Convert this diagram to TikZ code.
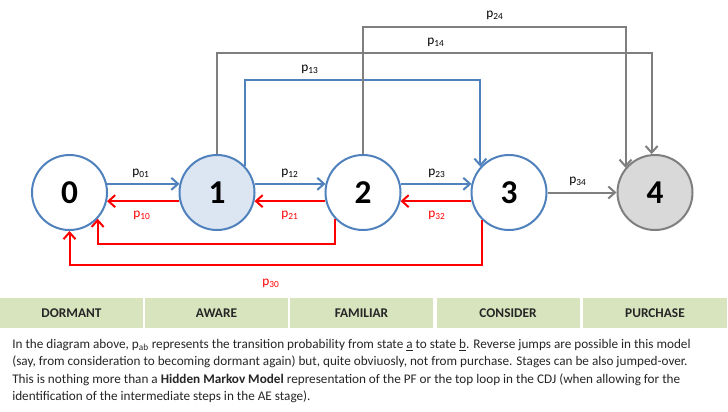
\documentclass[tikz,border=0pt]{standalone}
\usepackage{fontspec}
\setmainfont{Carlito}
\usetikzlibrary{arrows.meta}
\definecolor{cblue}{HTML}{4F81BD}
\definecolor{cred}{HTML}{FF0000}
\definecolor{cgray}{HTML}{7F7F7F}
\definecolor{nblue}{HTML}{DCE6F2}
\definecolor{ngray}{HTML}{D9D9D9}
\definecolor{bargreen}{HTML}{D7E4BD}
\definecolor{txt}{HTML}{262626}
\tikzset{
  state/.style={circle, draw=cblue, line width=1.5pt, fill=white, minimum size=56.25pt, inner sep=0pt, font=\fontsize{25}{25}\selectfont\bfseries},
  fwd/.style={draw=cblue, line width=1.5pt, -{Straight Barb[length=5pt,width=9pt,line width=1.5pt]}},
  bwd/.style={draw=cred, line width=1.5pt, -{Straight Barb[length=5pt,width=9pt,line width=1.5pt]}},
  gry/.style={draw=cgray, line width=1.5pt, -{Straight Barb[length=5pt,width=9pt,line width=1.5pt]}},
  plab/.style={font=\fontsize{10}{10}\selectfont, text=black, inner sep=1pt},
  rlab/.style={font=\fontsize{10}{10}\selectfont, text=cred, inner sep=1pt},
  stage/.style={fill=bargreen, draw=none, minimum height=22.5pt, inner sep=0pt, font=\fontsize{10}{10}\selectfont\bfseries, text=txt},
}
\begin{document}
\begin{tikzpicture}[x=0.75pt,y=-0.75pt]
\useasboundingbox (0,0) rectangle (728,411);
\fill[white] (0,0) rectangle (728,411);
% states
\node[state] (n0) at (69.5,192.5) {0};
\node[state, fill=nblue] (n1) at (217,192.5) {1};
\node[state] (n2) at (363,192.5) {2};
\node[state] (n3) at (509,192.5) {3};
\node[state, draw=cgray, fill=ngray] (n4) at (655,192.5) {4};
% forward / backward
\draw[fwd] (n0.13) -- (n1.167);
\draw[bwd] (n1.193) -- (n0.347);
\draw[fwd] (n1.13) -- (n2.167);
\draw[bwd] (n2.193) -- (n1.347);
\draw[fwd] (n2.13) -- (n3.167);
\draw[bwd] (n3.193) -- (n2.347);
\draw[gry] (n3.east) -- (n4.west);
% long backward loops
\coordinate (l20) at (0,244);
\coordinate (l30) at (0,265);
\draw[bwd] (n2.224) -- (n2.224 |- l20) -| (n0.317);
\draw[bwd] (n3.226) -- (n3.226 |- l30) -| (n0.270);
% top jumps
\coordinate (t13) at (0,80);
\coordinate (t14) at (0,53);
\coordinate (t24) at (0,27);
\draw[fwd] (n1.44) -- (n1.44 |- t13) -| (n3.138);
\draw[gry] (n1.90) -- (n1.90 |- t14) -| (n4.95);
\draw[gry] (n2.90) -- (n2.90 |- t24) -| (n4.140);
% labels
\node[plab] (l01) at (141,173) {p\textsubscript{01}};
\node[rlab] (l10) at (142,215) {p\textsubscript{10}};
\node[plab] (l12) at (290,173) {p\textsubscript{12}};
\node[rlab] (l21) at (290,215) {p\textsubscript{21}};
\node[plab] (l23) at (437,173) {p\textsubscript{23}};
\node[rlab] (l32) at (437,215) {p\textsubscript{32}};
\node[plab] (l34) at (578,181) {p\textsubscript{34}};
\node[plab] (l13) at (310,69) {p\textsubscript{13}};
\node[plab] (l14) at (436,42) {p\textsubscript{14}};
\node[plab] (l24) at (495,15) {p\textsubscript{24}};
\node[rlab] (l30t) at (271,283) {p\textsubscript{30}};
% stage bar
\node[stage, minimum width=107.25pt] (s0) at (71.5,313) {DORMANT};
\node[stage, minimum width=107.25pt] (s1) at (216.5,313) {AWARE};
\node[stage, minimum width=107.25pt] (s2) at (361.5,313) {FAMILIAR};
\node[stage, minimum width=107.25pt] (s3) at (508,313) {CONSIDER};
\node[stage, minimum width=108pt] (s4) at (655,313) {PURCHASE};
% paragraph
\node[anchor=north west, align=left, inner sep=0pt, text=txt, font=\fontsize{9.9}{13.1}\selectfont] (para) at (12,339) {In the diagram above, p\textsubscript{ab} represents\ the transition probability from state \underline{a} to state \underline{b}. Reverse jumps are possible in this model\\
(say, from consideration to becoming dormant again) but, quite obviuosly, not from purchase. Stages can be also jumped-over.\\
This is nothing more than a \textbf{Hidden Markov Model} representation of the PF or the top loop in the CDJ (when allowing for the\\
identification of the intermediate steps in the AE stage).};
\end{tikzpicture}
\end{document}
